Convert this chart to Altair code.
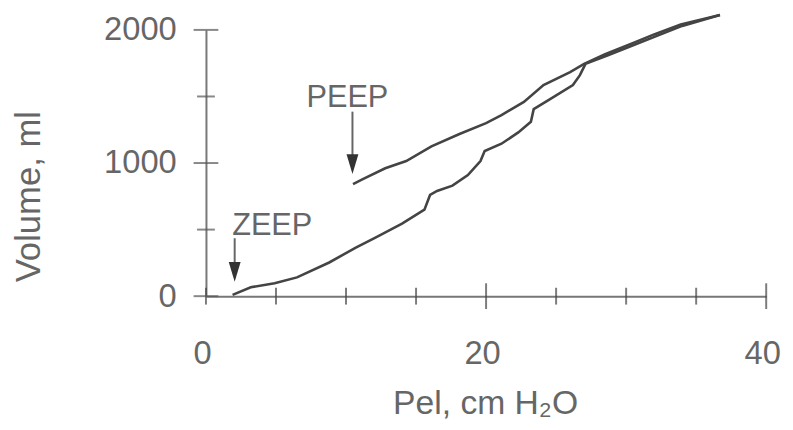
import altair as alt
import pandas as pd

# Inflation limb starting at ZEEP (Pel in cm H2O, volume in ml)
zeep_x = [1.9, 3.2, 4.9, 6.5, 8.8, 10.7, 12.1, 14.0, 15.6, 16.0, 16.5, 17.6, 18.7, 19.6, 19.9,
          21.1, 22.3, 23.2, 23.4, 24.6, 26.2, 26.7, 27.1, 28.7, 30.5, 32.2, 34.0, 36.7]
zeep_y = [10, 67, 97, 141, 253, 365, 440, 545, 650, 760, 790, 830, 910, 1015, 1090,
          1145, 1230, 1310, 1405, 1482, 1586, 1660, 1745, 1810, 1885, 1955, 2030, 2112]

# Inflation limb starting at PEEP
peep_x = [10.5, 11.2, 12.8, 14.3, 16.1, 18.1, 20.0, 21.1, 22.7, 24.1, 26.0, 27.0,
          28.5, 30.6, 32.0, 33.9, 36.7]
peep_y = [841, 879, 961, 1015, 1125, 1218, 1300, 1360, 1459, 1586, 1683, 1745,
          1817, 1906, 1966, 2040, 2112]

x_minor_ticks = [0, 5, 10, 15, 25, 30, 35]
x_major_ticks = [20, 40]
y_minor_ticks = [500, 1500]
y_major_ticks = [0, 1000, 2000]
x_labels = [0, 20, 40]
y_labels = [0, 1000, 2000]

ann_label = ["PEEP", "ZEEP"]
ann_text_x = [10.1, 4.73]
ann_text_y = [1423, 457]
arrow_x = [10.46, 2.05]
arrow_top = [1386, 435]
arrow_head = [992, 182]

FONT = "Liberation Sans"
TXT = "#666666"

curves = pd.DataFrame({
    "x": zeep_x + peep_x,
    "y": zeep_y + peep_y,
    "series": ["ZEEP"] * len(zeep_x) + ["PEEP"] * len(peep_x),
    "order": list(range(len(zeep_x))) + list(range(len(peep_x))),
})

xs = alt.Scale(domain=[0, 40], nice=False, zero=False)
ys = alt.Scale(domain=[0, 2000], nice=False, zero=False)

x_axis = alt.Axis(values=x_labels, domain=True, domainColor="#777777", domainWidth=2,
                  ticks=False, tickSize=0, grid=False, labelFlush=False, labelOverlap=False,
                  labelFont=FONT, labelFontSize=33, labelColor=TXT, labelPadding=42, format="d",
                  labelOffset=-4,
                  title="Pel, cm H₂O", titleFont=FONT, titleFontSize=34, titleColor=TXT,
                  titleFontWeight="normal", titleX=282, titleY=119, titleAlign="center",
                  titleBaseline="alphabetic")
y_axis = alt.Axis(values=y_labels, domain=True, domainColor="#777777", domainWidth=2,
                  ticks=False, tickSize=0, grid=False, labelFlush=False, labelOverlap=False,
                  labelFont=FONT, labelFontSize=33, labelColor=TXT, labelPadding=30, format="d",
                  title="Volume, ml", titleFont=FONT, titleFontSize=35, titleColor=TXT,
                  titleFontWeight="normal", titleX=-179, titleY=168, titleAngle=270,
                  titleAlign="center", titleBaseline="middle")


def X(field):
    return alt.X(f"{field}:Q", scale=xs, axis=x_axis, title="Pel, cm H₂O")


def Y(field):
    return alt.Y(f"{field}:Q", scale=ys, axis=y_axis, title="Volume, ml")


lines = alt.Chart(curves).mark_line(color="#444444", strokeWidth=2.6).encode(
    x=X("x"), y=Y("y"), detail="series:N", order="order:Q",
)


def xticks(vals, size):
    df = pd.DataFrame({"x": vals, "y": [0] * len(vals)})
    return alt.Chart(df).mark_tick(orient="vertical", size=size, thickness=2, color="#444444").encode(
        x=X("x"), y=Y("y"))


def yticks(vals, size):
    df = pd.DataFrame({"x": [0] * len(vals), "y": vals})
    return alt.Chart(df).mark_tick(orient="horizontal", size=size, thickness=2, color="#555555").encode(
        x=X("x"), y=Y("y"))


ann = pd.DataFrame({
    "label": ann_label, "tx": ann_text_x, "ty": ann_text_y,
    "ax": arrow_x, "atop": arrow_top, "ahead": arrow_head,
})

shafts = alt.Chart(ann).mark_rule(color="#666666", strokeWidth=2).encode(
    x=X("ax"), y=Y("atop"), y2="ahead:Q",
)
heads = alt.Chart(ann).mark_point(shape="M-0.6,-1L0.6,-1L0,1Z", filled=True, size=400,
                                  color="#333333", opacity=1).encode(
    x=X("ax"), y=Y("ahead"),
)
labels = alt.Chart(ann).mark_text(font=FONT, fontSize=31, color=TXT, align="center",
                                  baseline="alphabetic").encode(
    x=X("tx"), y=Y("ty"), text="label:N",
)

chart = alt.layer(
    lines,
    xticks(x_minor_ticks, 17), xticks(x_major_ticks, 26),
    yticks(y_minor_ticks, 18), yticks(y_major_ticks, 25),
    shafts, heads, labels,
).properties(
    width=566, height=269,
    autosize=alt.AutoSizeParams(type="none"),
    padding={"left": 200, "top": 20, "right": 19, "bottom": 125},
    background="white",
).configure_view(stroke=None)

chart.save("out.html", embed_options={"renderer": "svg", "actions": False})
